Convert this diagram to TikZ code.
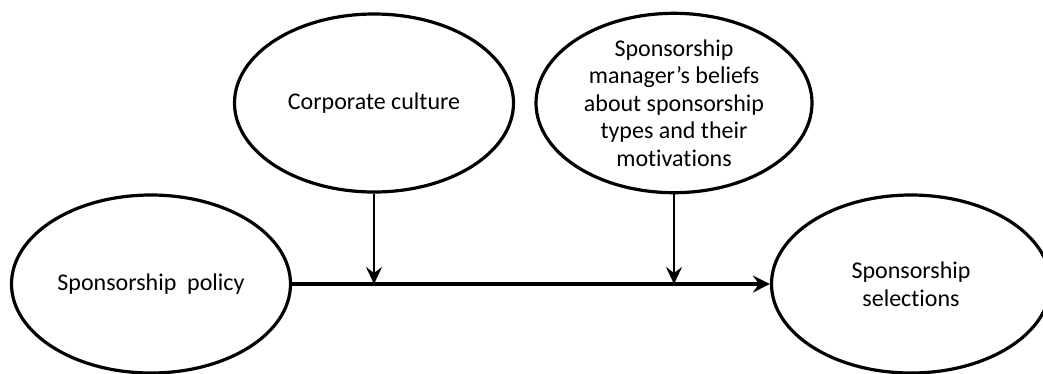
\documentclass[tikz,border=0pt]{standalone}
\usepackage{fontspec}
\setmainfont{Carlito}[Ligatures=NoCommon]
\usetikzlibrary{shapes.geometric,arrows.meta}
\begin{document}
\begin{tikzpicture}[x=1pt,y=-1pt,
    factor/.style={ellipse,draw,line width=3.2pt,inner sep=0pt,
        minimum width=279pt,minimum height=178pt,align=center,
        font=\fontsize{24}{27.5}\selectfont},
    mainflow/.style={line width=3.8pt,-{Stealth[length=17pt,width=17pt,inset=6pt]}},
    moderator/.style={line width=2.5pt,-{Stealth[length=17pt,width=16pt,inset=6pt]}}]
    \useasboundingbox (0,0) rectangle (1043,373);
    % moderators on top, main path below
    \node[factor] (culture) at (374,103) {Corporate culture};
    \node[factor,minimum width=276pt] (beliefs) at (674,103)
        {Sponsorship\\manager’s beliefs\\about sponsorship\\types and their\\motivations};
    \node[factor] (policy) at (151,284) {Sponsorship\ \ policy};
    \node[factor] (selections) at (911,284) {Sponsorship\\selections};
    \draw[mainflow] (policy.east) -- (selections.west);
    \draw[moderator] (culture.south) -- (culture.south |- policy.east);
    \draw[moderator] (beliefs.south) -- (beliefs.south |- policy.east);
\end{tikzpicture}
\end{document}
